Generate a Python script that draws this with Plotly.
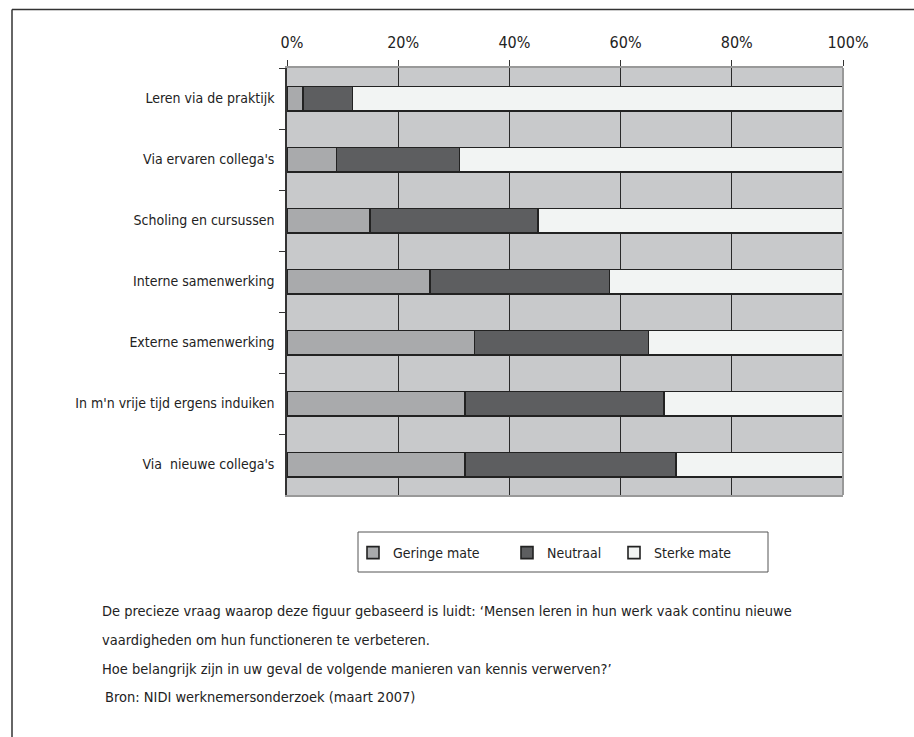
import plotly.graph_objects as go

categories = [
    "Leren via de praktijk",
    "Via ervaren collega's",
    "Scholing en cursussen",
    "Interne samenwerking",
    "Externe samenwerking",
    "In m'n vrije tijd ergens induiken",
    "Via  nieuwe collega's",
]
geringe = [2.9, 8.9, 14.9, 25.7, 33.7, 32.0, 32.0]
neutraal = [8.9, 22.1, 30.2, 32.3, 31.3, 35.8, 38.0]
sterke = [round(100 - g - n, 1) for g, n in zip(geringe, neutraal)]
series_names = ["Geringe mate", "Neutraal", "Sterke mate"]
series_colors = ["#a9aaac", "#5d5e60", "#f2f4f3"]
tick_vals = [0, 20, 40, 60, 80, 100]
tick_text = ["0%", "20%", "40%", "60%", "80%", "100%"]
footnote_lines = [
    "De precieze vraag waarop deze figuur gebaseerd is luidt: ‘Mensen leren in hun werk vaak continu nieuwe",
    "vaardigheden om hun functioneren te verbeteren.",
    "Hoe belangrijk zijn in uw geval de volgende manieren van kennis verwerven?’",
]
source_text = "Bron: NIDI werknemersonderzoek (maart 2007)"

FONT = "DejaVu Sans Condensed, Liberation Sans Narrow, Roboto, sans-serif"
W, H = 914, 737
L, R, T, B = 287, 71, 68, 242
pw, ph = W - L - R, H - T - B

def px_x(x):
    return (x - L) / pw

def px_y(y):
    return (H - B - y) / ph

legend_ids = ["legend", "legend2", "legend3"]
legend_left_px = [353, 507, 614]

fig = go.Figure()
for name, vals, col, lid in zip(series_names, [geringe, neutraal, sterke], series_colors, legend_ids):
    fig.add_trace(go.Bar(
        y=categories, x=vals, name=name, orientation="h", legend=lid,
        marker=dict(color=col, line=dict(color="#222222", width=1.6)),
    ))

legend_common = dict(
    orientation="h", xanchor="left", yanchor="top",
    bgcolor="rgba(0,0,0,0)", borderwidth=0,
    font=dict(size=14, family=FONT, color="#222222"), itemwidth=30,
)
legend_layout = {}
for lid, lx in zip(legend_ids, legend_left_px):
    legend_layout[lid] = dict(legend_common, x=px_x(lx), y=px_y(537))

fig.update_layout(
    width=W, height=H,
    margin=dict(l=L, r=R, t=T, b=B),
    barmode="stack", bargap=0.6,
    plot_bgcolor="#c8c9cb", paper_bgcolor="white",
    font=dict(family=FONT, size=15, color="#222222"),
    showlegend=True,
    xaxis=dict(
        side="top", range=[0, 100], tickvals=tick_vals, ticktext=tick_text,
        showgrid=True, gridcolor="#2a2a2a", gridwidth=1,
        zeroline=False, showline=True, linecolor="#999999", linewidth=2, mirror=True,
        ticks="outside", ticklen=6, tickcolor="#333333", tickwidth=1,
        ticklabelstandoff=6, ticklabelshift=5,
        tickfont=dict(size=16, family=FONT),
    ),
    yaxis=dict(
        autorange="reversed", showgrid=False, zeroline=False,
        showline=True, linecolor="#333333", linewidth=1.5,
        ticks="outside", tickson="boundaries", ticklen=6, tickcolor="#333333",
        ticksuffix="  ", tickfont=dict(size=14, family=FONT),
    ),
    **legend_layout,
)

# right border (gray) of plot area
fig.add_shape(type="line", xref="paper", yref="paper", x0=1, x1=1, y0=0, y1=1,
              line=dict(color="#999999", width=2))
# legend box
fig.add_shape(type="rect", xref="paper", yref="paper",
              x0=px_x(358), x1=px_x(768), y0=px_y(532), y1=px_y(572),
              line=dict(color="#555555", width=1), fillcolor="rgba(0,0,0,0)")
# outer frame (top and left)
fig.add_shape(type="line", xref="paper", yref="paper",
              x0=px_x(12), x1=px_x(914), y0=px_y(9.5), y1=px_y(9.5),
              line=dict(color="#333333", width=1.5))
fig.add_shape(type="line", xref="paper", yref="paper",
              x0=px_x(12), x1=px_x(12), y0=px_y(9.5), y1=px_y(737),
              line=dict(color="#333333", width=1.5))

for i, line in enumerate(footnote_lines):
    fig.add_annotation(text=line, xref="paper", yref="paper",
                       x=px_x(100), y=px_y(611 + 29 * i), xanchor="left", yanchor="middle",
                       showarrow=False, font=dict(size=14.5, family=FONT, color="#222222"))
fig.add_annotation(text=source_text, xref="paper", yref="paper",
                   x=px_x(103), y=px_y(697), xanchor="left", yanchor="middle",
                   showarrow=False, font=dict(size=14.5, family=FONT, color="#222222"))

fig.write_html("out.html")
